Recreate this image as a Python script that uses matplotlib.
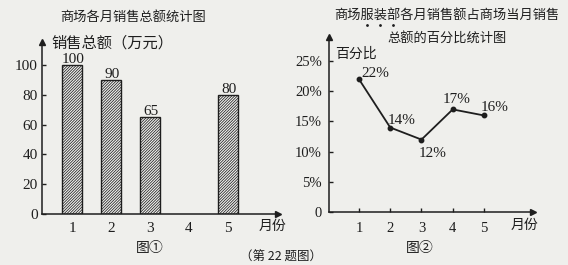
import matplotlib
matplotlib.use("Agg")
import matplotlib.pyplot as plt
from matplotlib.lines import Line2D

# Monthly totals for the mall (10k yuan); month 4 has no bar
bar_months = [1, 2, 3, 5]
sales_totals = [100, 90, 65, 80]
month_ticks = [1, 2, 3, 4, 5]
sales_ticks = [0, 20, 40, 60, 80, 100]

# Clothing department share of the monthly total (%)
line_months = [1, 2, 3, 4, 5]
clothing_share = [22, 14, 12, 17, 16]
share_ticks = [0, 5, 10, 15, 20, 25]
share_tick_labels = ["0", "5%", "10%", "15%", "20%", "25%"]

FONT = ["Liberation Serif", "Noto Sans CJK SC"]
CJK = ["Noto Sans CJK SC", "Liberation Serif"]
INK = "#1e1e1e"
PAPER = "#efefec"

plt.rcParams["font.family"] = FONT
plt.rcParams["hatch.linewidth"] = 0.55
plt.rcParams["hatch.color"] = "#3a3a3a"

fig = plt.figure(figsize=(5.68, 2.65), dpi=100, facecolor=PAPER)


def style_axes(ax):
    ax.set_facecolor("none")
    for side in ("top", "right"):
        ax.spines[side].set_visible(False)
    for side in ("left", "bottom"):
        ax.spines[side].set_linewidth(1.1)
        ax.spines[side].set_color(INK)
    # arrow heads at the axis ends
    ax.plot(1, 0, marker=">", ms=5, color=INK, transform=ax.transAxes, clip_on=False)
    ax.plot(0, 1, marker="^", ms=5, color=INK, transform=ax.transAxes, clip_on=False)


# ---- left: bar chart ----
ax1 = fig.add_axes([42 / 568, 51 / 265, 236 / 568, 172 / 265])
style_axes(ax1)
ax1.set_xlim(0.23, 6.28)
ax1.set_ylim(0, 115.4)
ax1.bar(bar_months, sales_totals, width=0.5, facecolor="#f0f0ee",
        edgecolor=INK, linewidth=1.0, hatch="////////////")
for x, v in zip(bar_months, sales_totals):
    ax1.text(x + 0.03, v - 0.5, str(v), ha="center", va="bottom",
             fontsize=11, color=INK)
ax1.set_xticks(month_ticks)
ax1.set_xticklabels([str(m) for m in month_ticks], fontsize=11, color=INK)
ax1.set_yticks(sales_ticks)
ax1.set_yticklabels([str(t) for t in sales_ticks], fontsize=11, color=INK)
ax1.tick_params(axis="x", length=0, pad=6)
ax1.tick_params(axis="y", direction="in", length=3, width=1, colors=INK, pad=3)
ax1.text(6.15, -8, "月份", family=CJK, fontsize=10, color=INK, ha="center", va="center")
ax1.text(0.48, 115, "销售总额（万元）", family=CJK, fontsize=11, color=INK,
         ha="left", va="center")

# ---- right: line chart ----
ax2 = fig.add_axes([329 / 568, 53 / 265, 204 / 568, 175 / 265])
style_axes(ax2)
ax2.set_xlim(0.04, 6.57)
ax2.set_ylim(0, 29)
ax2.plot(line_months, clothing_share, color=INK, linewidth=1.3,
         marker="o", ms=3.2, mfc=INK, mec=INK)
offsets = [(12, 4), (8, 5), (8, -10), (3, 7), (8, 6)]
for x, v, off in zip(line_months, clothing_share, offsets):
    ax2.annotate(f"{v}%", (x, v), xytext=off, textcoords="offset points",
                 ha="center", va="center", fontsize=11, color=INK)
ax2.set_xticks(line_months)
ax2.set_xticklabels([str(m) for m in line_months], fontsize=10.5, color=INK)
ax2.set_yticks(share_ticks)
ax2.set_yticklabels(share_tick_labels, fontsize=10.5, color=INK)
ax2.tick_params(axis="x", direction="in", length=3, width=1, colors=INK, pad=7)
ax2.tick_params(axis="y", direction="in", length=3, width=1, colors=INK, pad=5)
ax2.text(6.3, -2.1, "月份", family=CJK, fontsize=10, color=INK, ha="center", va="center")
ax2.text(0.25, 26.2, "百分比", family=CJK, fontsize=10, color=INK,
         ha="left", va="center")

# ---- titles and captions ----
fig.text(133 / 568, 1 - 17 / 265, "商场各月销售总额统计图", family=CJK,
         fontsize=9.5, color=INK, ha="center", va="center")
fig.text(447 / 568, 1 - 15 / 265, "商场服装部各月销售额占商场当月销售", family=CJK,
         fontsize=9.5, color=INK, ha="center", va="center")
fig.text(447 / 568, 1 - 38 / 265, "总额的百分比统计图", family=CJK,
         fontsize=9.5, color=INK, ha="center", va="center")
# emphasis dots under 服装部
for px in (367, 380, 393):
    fig.add_artist(Line2D([px / 568], [1 - 25 / 265], marker="o", ms=1.0,
                          color=INK, transform=fig.transFigure))

fig.text(150 / 568, 1 - 248 / 265, "图①", family=CJK, fontsize=10, color=INK,
         ha="center", va="center")
fig.text(420 / 568, 1 - 248 / 265, "图②", family=CJK, fontsize=10, color=INK,
         ha="center", va="center")
fig.text(281 / 568, 1 - 257 / 265, "（第 22 题图）", family=CJK, fontsize=9,
         color=INK, ha="center", va="center")

fig.savefig("out.png", dpi=100, facecolor=PAPER)
